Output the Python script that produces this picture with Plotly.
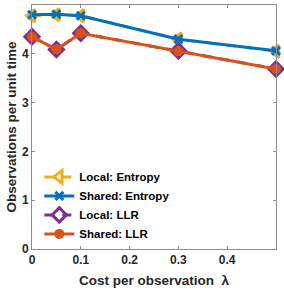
import plotly.graph_objects as go

cost = [0.0, 0.05, 0.1, 0.3, 0.5]
local_entropy = [4.78, 4.80, 4.78, 4.30, 4.05]
shared_entropy = [4.80, 4.81, 4.78, 4.30, 4.06]
local_llr = [4.35, 4.09, 4.42, 4.06, 3.69]
shared_llr = [4.35, 4.09, 4.42, 4.05, 3.69]

x_ticks = [0, 0.1, 0.2, 0.3, 0.4]
y_ticks = [0, 1, 2, 3, 4, 5]

fig = go.Figure()
fig.add_trace(go.Scatter(x=cost, y=local_entropy, name="Local: Entropy", mode="lines+markers",
                         line=dict(color="#EDB120", width=3, dash="dash"),
                         marker=dict(symbol="triangle-left-open", size=11, color="#EDB120", line=dict(width=3))))
fig.add_trace(go.Scatter(x=cost, y=shared_entropy, name="Shared: Entropy", mode="lines+markers",
                         line=dict(color="#0072BD", width=3),
                         marker=dict(symbol="x-thin", size=8, color="#0072BD", line=dict(width=3, color="#0072BD"))))
fig.add_trace(go.Scatter(x=cost, y=local_llr, name="Local: LLR", mode="lines+markers",
                         line=dict(color="#7E2F8E", width=3, dash="dash"),
                         marker=dict(symbol="diamond-open", size=11, color="#7E2F8E", line=dict(width=3))))
fig.add_trace(go.Scatter(x=cost, y=shared_llr, name="Shared: LLR", mode="lines+markers",
                         line=dict(color="#D95319", width=3),
                         marker=dict(symbol="circle", size=10, color="#D95319")))

axis_common = dict(showgrid=False, zeroline=False, showline=True, linecolor="#8c8c8c", linewidth=1,
                   mirror="ticks", ticks="inside", ticklen=3, tickcolor="#8c8c8c", automargin=False,
                   tickfont=dict(family="Liberation Sans", size=12, color="#262626"))

fig.update_layout(
    width=284, height=294,
    margin=dict(l=32, r=8, t=5, b=45),
    paper_bgcolor="white", plot_bgcolor="white",
    font=dict(family="Liberation Sans", color="#262626"),
    xaxis=dict(range=[0, 0.5], tickvals=x_ticks, ticktext=["<b>%g</b>" % v for v in x_ticks],
               title=dict(text="<b>Cost per observation  λ</b>", font=dict(size=13.5), standoff=9),
               **axis_common),
    yaxis=dict(range=[0, 5], tickvals=y_ticks, ticktext=["<b>%d</b>" % v for v in y_ticks],
               title=dict(text="<b>Observations per unit time</b>", font=dict(size=13.5), standoff=2),
               **axis_common),
    legend=dict(x=0.03, y=0.355, xanchor="left", yanchor="top", bgcolor="rgba(255,255,255,0)",
                font=dict(size=11.5, color="black"), tracegroupgap=0, itemwidth=30),
    showlegend=True,
)
fig.update_traces(cliponaxis=False)
fig.for_each_trace(lambda t: t.update(name="<b>" + t.name + "</b>"))

fig.write_html("out.html", config={"displayModeBar": False},
               post_script="document.body.style.margin='0';document.body.style.padding='0';")
